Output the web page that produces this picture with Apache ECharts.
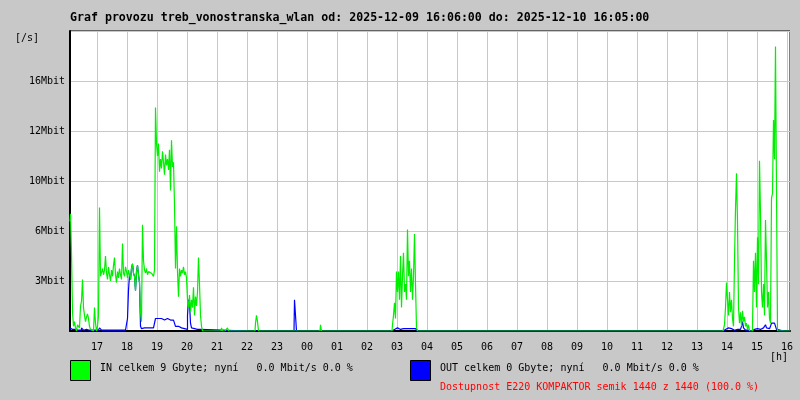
<!DOCTYPE html>
<html>
<head>
<meta charset="utf-8">
<script src="https://cdn.jsdelivr.net/npm/echarts@6/dist/echarts.min.js"></script>
<style>
html,body{margin:0;padding:0;background:#c8c8c8;}
#chart{width:800px;height:400px;}
</style>
</head>
<body>
<div id="chart"></div>
<script>
// ---- data (Mbit/s), samples every 2 minutes ----
const titleText = 'Graf provozu treb_vonostranska_wlan od: 2025-12-09 16:06:00 do: 2025-12-10 16:05:00';
const yTickLabels = ['', '3Mbit', '6Mbit', '10Mbit', '12Mbit', '16Mbit', ''];
const yStep = 3.2;
const sampleMinutes = 2;

const seg1Start = '16:06';
const seg1In = [
  7.0, 7.5, 5.0, 1.2, 0.3, 0.6, 0.2, 0.0, 0.4, 0.3,
  0.2, 1.6, 1.9, 3.3, 1.5, 1.0, 0.6, 0.9, 1.1, 0.8,
  0.3, 0.1, 0.0, 0.0, 0.0, 1.5, 0.5, 0.0, 0.3, 1.0,
  7.9, 3.5, 3.4, 4.0, 3.6, 3.9, 4.8, 3.7, 3.3, 4.1,
  3.6, 3.2, 3.9, 3.5, 4.2, 4.7, 3.6, 3.1, 3.8, 3.4,
  4.0, 3.6, 3.3, 5.6, 3.7, 3.5, 4.1, 3.8, 3.4, 3.9,
  3.6, 3.3, 4.0, 4.3, 3.7, 3.5, 2.6, 3.8, 4.2, 3.6,
  3.1, 1.2, 0.6, 6.8, 4.5, 3.9, 3.7, 4.0, 3.6, 3.8,
  3.9, 3.7, 3.6, 3.8, 3.5, 3.9, 14.3, 12.0, 11.2, 12.0,
  10.2, 11.0, 10.4, 11.5, 10.8, 10.0, 11.3, 10.6, 11.0, 10.3,
  11.6, 9.0, 12.2, 10.5, 10.8, 8.1, 4.0, 6.7, 3.8, 2.2,
  4.0, 3.5, 3.9, 3.7, 4.1, 3.6, 3.8, 3.4, 2.0, 1.5,
  2.3, 1.2, 2.0, 1.5, 2.8, 1.0, 2.2, 1.6, 2.5, 4.7,
  3.0, 1.0, 0.3, 0.0
];
const seg1Out = [
  0.2, 0.3, 0.1, 0.1, 0.05, 0.1, 0.2, 0.05, 0.05, 0.05,
  0.1, 0.05, 0.2, 0.1, 0.05, 0.05, 0.1, 0.05, 0.05, 0.05,
  0.05, 0.05, 0.05, 0.05, 0.05, 0.05, 0.05, 0.1, 0.05, 0.05,
  0.2, 0.1, 0.05, 0.05, 0.05, 0.05, 0.05, 0.05, 0.05, 0.05,
  0.05, 0.05, 0.05, 0.05, 0.05, 0.05, 0.05, 0.05, 0.05, 0.05,
  0.05, 0.05, 0.05, 0.05, 0.05, 0.05, 0.05, 0.05, 0.8, 2.6,
  3.6, 3.3, 4.0, 4.3, 3.7, 3.5, 2.6, 3.8, 4.2, 3.6,
  3.1, 0.3, 0.15, 0.2, 0.2, 0.2, 0.2, 0.2, 0.2, 0.2,
  0.2, 0.2, 0.2, 0.2, 0.2, 0.2, 0.8, 0.7, 0.8, 0.75,
  0.7, 0.8, 0.7, 0.75, 0.7, 0.75, 0.7, 0.8, 0.7, 0.75,
  0.7, 0.8, 0.75, 0.7, 0.8, 0.6, 0.3, 0.25, 0.3, 0.2,
  0.25, 0.2, 0.2, 0.15, 0.15, 0.15, 0.15, 0.1, 1.0, 2.0,
  1.8, 0.5, 0.2, 0.1, 0.15, 0.1, 0.1, 0.1, 0.2, 0.1,
  0.1, 0.1, 0.05, 0.0
];

const seg2Start = '02:50';
const seg2In = [
  0.0, 0.4, 1.0, 1.8, 0.8, 3.8, 2.5, 3.8, 2.0, 4.8,
  1.5, 3.5, 5.0, 2.5, 3.0, 2.0, 6.5, 3.5, 4.5, 2.5,
  4.0, 2.0, 3.5, 6.2, 3.0, 0.2, 0.0
];
const seg2Out = [
  0.0, 0.05, 0.1, 0.05, 0.1, 0.2, 0.1, 0.15, 0.1, 0.2,
  0.1, 0.15, 0.1, 0.1, 0.15, 0.1, 0.1, 0.15, 0.2, 0.1,
  0.15, 0.1, 0.2, 0.15, 0.1, 0.05, 0.0
];

const seg3Start = '13:52';
const seg3In = [
  0.0, 0.1, 0.4, 1.5, 3.1, 2.0, 1.0, 2.5, 1.2, 2.0,
  0.8, 0.3, 4.5, 7.8, 10.1, 7.0, 1.5, 0.5, 1.2, 0.3,
  1.3, 0.6, 0.9, 0.3, 0.5, 0.1, 0.4, 0.0, 0.0, 0.0,
  0.2, 4.5, 2.5, 5.0, 1.5, 6.0, 3.0, 10.9, 7.5, 2.5,
  1.5, 3.0, 1.0, 7.1, 4.5, 1.5, 2.5, 0.8, 0.5, 8.5,
  8.8, 13.5, 11.0, 18.2, 9.0, 0.0
];
const seg3Out = [
  0.0, 0.05, 0.1, 0.15, 0.1, 0.2, 0.1, 0.1, 0.15, 0.1,
  0.1, 0.05, 0.1, 0.05, 0.1, 0.1, 0.05, 0.1, 0.2, 0.3,
  0.6, 0.2, 0.1, 0.05, 0.1, 0.05, 0.05, 0.0, 0.0, 0.0,
  0.0, 0.1, 0.05, 0.1, 0.15, 0.1, 0.2, 0.1, 0.15, 0.1,
  0.2, 0.15, 0.3, 0.4, 0.2, 0.1, 0.15, 0.05, 0.3, 0.5,
  0.55, 0.5, 0.55, 0.4, 0.1, 0.0
];

// short isolated bursts
const inBlipStarts = ['21:08', '21:20', '22:16', '23:06', '00:26'];
const inBlipValues = [[0, 0.2, 0], [0, 0.2, 0], [0, 0.5, 1.0, 0.6, 0], [0, 0.1, 0], [0, 0.4, 0]];
const outBlipStarts = ['23:34'];
const outBlipValues = [[0, 2.0, 2.0, 0]];

// ---- helpers ----
function ts(hhmm) {
  const p = hhmm.split(':').map(Number);
  const day = (p[0] * 60 + p[1] >= 16 * 60 + 6) ? 9 : 10;
  return new Date(2025, 11, day, p[0], p[1]).getTime();
}
const xMin = new Date(2025, 11, 9, 16, 6).getTime();
const xMax = new Date(2025, 11, 10, 16, 6).getTime();
function addSeg(arr, start, vals) {
  const t0 = ts(start);
  vals.forEach((v, i) => arr.push([t0 + i * sampleMinutes * 60000, v]));
}
function build(segs, blipStarts, blipVals) {
  const arr = [];
  segs.forEach(s => addSeg(arr, s[0], s[1]));
  blipStarts.forEach((s, i) => addSeg(arr, s, blipVals[i]));
  arr.push([xMax, 0]);
  arr.sort((a, b) => a[0] - b[0]);
  return arr;
}
const inData = build([[seg1Start, seg1In], [seg2Start, seg2In], [seg3Start, seg3In]], inBlipStarts, inBlipValues);
const outData = build([[seg1Start, seg1Out], [seg2Start, seg2Out], [seg3Start, seg3Out]], outBlipStarts, outBlipValues);

const mono = 'DejaVu Sans Mono';
const chart = echarts.init(document.getElementById('chart'), null, {renderer: 'canvas'});
chart.setOption({
  backgroundColor: '#c8c8c8',
  animation: false,
  grid: {left: 70, right: 10, top: 31, bottom: 69, show: true, backgroundColor: '#ffffff', borderColor: '#000000', borderWidth: 1},
  xAxis: {
    type: 'time', min: xMin, max: xMax,
    minInterval: 3600000, maxInterval: 3600000,
    axisLine: {show: true, lineStyle: {color: '#000', width: 2}},
    axisTick: {show: false},
    splitLine: {show: true, lineStyle: {color: '#c8c8c8', width: 1}},
    axisLabel: {formatter: '{HH}', color: '#000', fontFamily: mono, fontSize: 10, margin: 11, showMinLabel: false, showMaxLabel: false, hideOverlap: false}
  },
  yAxis: {
    type: 'value', min: 0, max: yStep * 6, interval: yStep,
    axisLine: {show: true, lineStyle: {color: '#000', width: 2}},
    axisTick: {show: false},
    splitLine: {show: true, lineStyle: {color: '#c8c8c8', width: 1}},
    axisLabel: {formatter: v => yTickLabels[Math.round(v / yStep)] || '', color: '#000', fontFamily: mono, fontSize: 10, margin: 5}
  },
  series: [
    {name: 'OUT', type: 'line', data: outData, step: 'middle', showSymbol: false, lineStyle: {color: '#0000ff', width: 1.2}, z: 2},
    {name: 'IN', type: 'line', data: inData, step: 'middle', showSymbol: false, lineStyle: {color: '#00ee00', width: 1.2}, z: 3}
  ],
  graphic: [
    {type: 'text', left: 70, top: 12, style: {text: titleText, font: 'bold 11.6px "DejaVu Sans Mono"', fill: '#000'}},
    {type: 'text', left: 15, top: 33, style: {text: '[/s]', font: '10px "DejaVu Sans Mono"', fill: '#000'}},
    {type: 'text', left: 770, top: 352, style: {text: '[h]', font: '10px "DejaVu Sans Mono"', fill: '#000'}},
    {type: 'rect', shape: {x: 70.5, y: 360.5, width: 20, height: 20}, style: {fill: '#00ff00', stroke: '#000', lineWidth: 1}},
    {type: 'text', left: 100, top: 363, style: {text: 'IN celkem 9 Gbyte; nyní   0.0 Mbit/s 0.0 %', font: '10px "DejaVu Sans Mono"', fill: '#000'}},
    {type: 'rect', shape: {x: 410.5, y: 360.5, width: 20, height: 20}, style: {fill: '#0000ff', stroke: '#000', lineWidth: 1}},
    {type: 'text', left: 440, top: 363, style: {text: 'OUT celkem 0 Gbyte; nyní   0.0 Mbit/s 0.0 %', font: '10px "DejaVu Sans Mono"', fill: '#000'}},
    {type: 'text', left: 440, top: 382, style: {text: 'Dostupnost E220 KOMPAKTOR semik 1440 z 1440 (100.0 %)', font: '10px "DejaVu Sans Mono"', fill: '#ff0000'}}
  ]
});
</script>
</body>
</html>
